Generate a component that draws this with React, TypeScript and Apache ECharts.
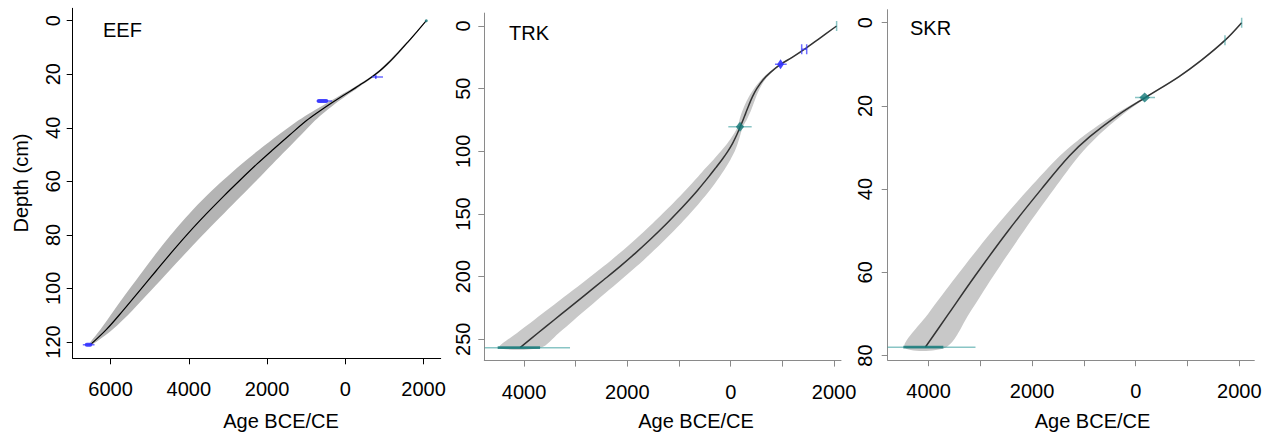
import React, { useEffect, useRef } from "react";
import * as echarts from "echarts";

// ---------- data ----------
// EEF core: depth (cm), median age (CE, negative = BCE), half-width of grey envelope (years)
const eefDepth = [0, 4, 8, 12, 16, 19, 22, 25, 28, 31, 34, 37.3, 42.7, 48.3, 53.5, 59.5, 65.6, 71.9, 78.7, 85.9, 93.4, 100.8, 108.3, 115.3, 121.1];
const eefAge = [2070, 1838, 1598, 1350, 1086, 861, 585, 267, -63, -381, -681, -991, -1423, -1860, -2255, -2687, -3114, -3536, -3971, -4403, -4834, -5256, -5684, -6104, -6522];
const eefHalf = [0, 15, 25, 35, 40, 40, 45, 60, 85, 120, 165, 215, 290, 350, 395, 430, 445, 440, 415, 380, 335, 290, 235, 155, 40];

// TRK core
const trkDepth = [0, 10, 18.5, 25, 30.6, 37, 43, 50, 56.4, 63, 69.7, 75, 80.3, 87, 93.6, 100, 106.9, 113, 120, 131, 140, 149.5, 157.4, 170.8, 181.4, 192, 202.7, 213.3, 225.3, 234.6, 245.2, 256.7];
const trkAge = [2050, 1715, 1430, 1190, 965, 770, 624, 505, 422, 353, 289, 239, 186, 116, 37, -56, -173, -286, -419, -639, -833, -1047, -1233, -1568, -1849, -2146, -2462, -2780, -3140, -3419, -3737, -4076];
const trkHalf = [0, 10, 15, 18, 20, 28, 38, 55, 70, 80, 80, 70, 50, 70, 100, 135, 165, 190, 210, 235, 250, 265, 275, 290, 305, 320, 335, 350, 370, 385, 405, 400];

// SKR core
const skrDepth = [0, 4.2, 9, 13, 18, 22.2, 27.4, 32, 40, 50, 61, 70, 78];
const skrAge = [2046, 1727, 1271, 831, 185, -340, -886, -1277, -1821, -2461, -3110, -3614, -4062];
const skrHalf = [0, 15, 20, 25, 30, 80, 140, 185, 245, 305, 355, 395, 400];

// dated samples: depth, full range, core range, type (c14 = blue, other = teal), drawing kind
const eefDates = [
  { depth: 0, min: 2060, max: 2080, coreMin: 2065, coreMax: 2075, type: "other", kind: "dot" },
  { depth: 21, min: 682, max: 963, coreMin: 760, coreMax: 800, type: "c14", kind: "bar" },
  { depth: 30, min: -731, max: -340, coreMin: -731, coreMax: -434, type: "c14", kind: "bar" },
  { depth: 121, min: -6709, max: -6410, coreMin: -6660, coreMax: -6470, type: "c14", kind: "bar" },
];
const trkDates = [
  { depth: 0, min: 2045, max: 2055, coreMin: 2045, coreMax: 2055, type: "other", kind: "tick" },
  { depth: 18.5, min: 1374, max: 1471, coreMin: 1374, coreMax: 1471, type: "c14", kind: "tick" },
  { depth: 30.6, min: 857, max: 1084, coreMin: 900, coreMax: 1030, type: "c14", kind: "peak" },
  { depth: 80.3, min: -46, max: 406, coreMin: 100, coreMax: 260, type: "other", kind: "peak" },
  { depth: 256.7, min: -4760, max: -3110, coreMin: -4510, coreMax: -3690, type: "other", kind: "line" },
];
const skrDates = [
  { depth: 0, min: 2046, max: 2046, coreMin: 2046, coreMax: 2046, type: "other", kind: "tick" },
  { depth: 4.2, min: 1724, max: 1724, coreMin: 1724, coreMax: 1724, type: "other", kind: "tick" },
  { depth: 18, min: -13, max: 373, coreMin: 70, coreMax: 276, type: "other", kind: "peak" },
  { depth: 78, min: -4790, max: -3093, coreMin: -4486, coreMax: -3714, type: "other", kind: "line" },
];

// tick values
const eefXTicks = [-6000, -4000, -2000, 0, 2000];
const eefYTicks = [0, 20, 40, 60, 80, 100, 120];
const trkXTicks = [-4000, -3000, -2000, -1000, 0, 1000, 2000];
const trkXLabels = [-4000, -2000, 0, 2000];
const trkYTicks = [0, 50, 100, 150, 200, 250];
const skrXTicks = [-4000, -3000, -2000, -1000, 0, 1000, 2000];
const skrXLabels = [-4000, -2000, 0, 2000];
const skrYTicks = [0, 20, 40, 60, 80];

const titles = ["EEF", "TRK", "SKR"];
const xTitle = "Age BCE/CE";
const yTitle = "Depth (cm)";

// ---------- layout / style ----------
const FONT = "'Liberation Sans', Arial, Helvetica, sans-serif";

const panels = [
  {
    title: titles[0], depth: eefDepth, age: eefAge, half: eefHalf, dates: eefDates,
    xTicks: eefXTicks, xLabels: eefXTicks, yTicks: eefYTicks,
    left: 72.7, top: 8.3, width: 368, height: 350,
    xMin: -6968, xMax: 2438, yMin: -4.63, yMax: 126.1,
    axisColor: "#000", band: "#b4b4b4", line: "#000", lineW: 1.2, yMargin: 9.6,
    titleX: 103, titleY: 30, xTitleX: 281,
  },
  {
    title: titles[1], depth: trkDepth, age: trkAge, half: trkHalf, dates: trkDates,
    xTicks: trkXTicks, xLabels: trkXLabels, yTicks: trkYTicks,
    left: 484.3, top: 13.1, width: 356.7, height: 347.5,
    xMin: -4769, xMax: 2135, yMin: -10.3, yMax: 267,
    axisColor: "#8a8a8a", band: "#c8c8c8", line: "#333", lineW: 1.5, yMargin: 11.2,
    titleX: 509, titleY: 33, xTitleX: 696,
  },
  {
    title: titles[2], depth: skrDepth, age: skrAge, half: skrHalf, dates: skrDates,
    xTicks: skrXTicks, xLabels: skrXLabels, yTicks: skrYTicks,
    left: 887.7, top: 9.7, width: 366.6, height: 350.5,
    xMin: -4788, xMax: 2290, yMin: -3.12, yMax: 81.12,
    axisColor: "#8a8a8a", band: "#c8c8c8", line: "#333", lineW: 1.5, yMargin: 12.9,
    titleX: 910, titleY: 28, xTitleX: 1092.5,
  },
];

const COLORS: Record<string, { thin: string; core: string }> = {
  c14: { thin: "rgba(60,60,255,0.75)", core: "rgba(50,50,255,0.9)" },
  other: { thin: "rgba(40,150,150,0.55)", core: "rgba(20,120,120,0.8)" },
};

function buildOption() {
  const grid = panels.map((p) => ({ left: p.left, top: p.top, width: p.width, height: p.height }));
  const xAxis = panels.map((p, i) => ({
    type: "value", gridIndex: i, min: p.xMin, max: p.xMax,
    axisLine: { show: true, onZero: false, lineStyle: { color: p.axisColor, width: 1 } },
    axisTick: { show: true, inside: false, length: 6, customValues: p.xTicks, lineStyle: { color: p.axisColor, width: 1 } },
    axisLabel: {
      show: true, customValues: p.xLabels, margin: 21, fontSize: 20, color: "#000", fontFamily: FONT,
      formatter: (v: number) => String(Math.abs(v)),
    },
    splitLine: { show: false },
  }));
  const yAxis = panels.map((p, i) => ({
    type: "value", gridIndex: i, inverse: true, min: p.yMin, max: p.yMax,
    axisLine: { show: true, onZero: false, lineStyle: { color: p.axisColor, width: 1 } },
    axisTick: { show: true, inside: false, length: 6, customValues: p.yTicks, lineStyle: { color: p.axisColor, width: 1 } },
    axisLabel: {
      show: true, customValues: p.yTicks, margin: p.yMargin, rotate: 90, fontSize: 20, color: "#000", fontFamily: FONT,
    },
    splitLine: { show: false },
  }));

  const series: any[] = [];
  panels.forEach((p, i) => {
    series.push({
      type: "custom", xAxisIndex: i, yAxisIndex: i, silent: true, clip: true, z: 1,
      data: p.depth.map((d, k) => [p.age[k], d]),
      renderItem: (params: any, api: any) => {
        if (params.dataIndex !== 0) return null;
        const leftSide = p.depth.map((d, k) => api.coord([p.age[k] - p.half[k], d]));
        const rightSide = p.depth.map((d, k) => api.coord([p.age[k] + p.half[k], d])).reverse();
        return {
          type: "polygon",
          shape: { points: leftSide.concat(rightSide), smooth: 0.3 },
          style: { fill: p.band, stroke: "none" },
        };
      },
    });
    series.push({
      type: "line", xAxisIndex: i, yAxisIndex: i, silent: true, z: 2,
      data: p.depth.map((d, k) => [p.age[k], d]),
      showSymbol: false, smooth: 0.35,
      lineStyle: { color: p.line, width: p.lineW },
    });
    series.push({
      type: "custom", xAxisIndex: i, yAxisIndex: i, silent: true, clip: true, z: 3,
      data: p.dates.map((d) => [d.min, d.depth, d.max]),
      renderItem: (params: any, api: any) => {
        const d = p.dates[params.dataIndex];
        const c = COLORS[d.type];
        const a = api.coord([d.min, d.depth]);
        const b = api.coord([d.max, d.depth]);
        const ca = api.coord([d.coreMin, d.depth]);
        const cb = api.coord([d.coreMax, d.depth]);
        const y = a[1];
        const children: any[] = [];
        if (d.kind === "tick") {
          const xs = Math.abs(b[0] - a[0]) < 1.5 ? [(a[0] + b[0]) / 2] : [a[0], b[0]];
          xs.forEach((x) => children.push({ type: "line", shape: { x1: x, y1: y - 5, x2: x, y2: y + 5 }, style: { stroke: c.thin, lineWidth: 1.5 } }));
          if (xs.length > 1) children.push({ type: "line", shape: { x1: a[0], y1: y, x2: b[0], y2: y }, style: { stroke: c.thin, lineWidth: 1.5 } });
        } else if (d.kind === "dot") {
          children.push({ type: "circle", shape: { cx: (a[0] + b[0]) / 2, cy: y, r: 1.5 }, style: { fill: c.core } });
        } else {
          children.push({ type: "line", shape: { x1: a[0], y1: y, x2: b[0], y2: y }, style: { stroke: c.thin, lineWidth: 1.5 } });
          if (d.kind === "peak") {
            const mx = (ca[0] + cb[0]) / 2;
            children.push({
              type: "polygon",
              shape: { points: [[ca[0], y], [mx, y - 5], [cb[0], y], [mx, y + 5]] },
              style: { fill: c.core },
            });
          } else if (d.kind === "line") {
            children.push({ type: "rect", shape: { x: ca[0], y: y - 1.4, width: cb[0] - ca[0], height: 2.8 }, style: { fill: c.core } });
          } else {
            children.push({ type: "rect", shape: { x: ca[0], y: y - 2, width: cb[0] - ca[0], height: 4, r: 2 }, style: { fill: c.core } });
          }
        }
        return { type: "group", children };
      },
    });
  });

  const graphic: any[] = [];
  panels.forEach((p) => {
    graphic.push({
      type: "text", x: p.titleX, y: p.titleY, silent: true,
      style: { text: p.title, fontSize: 20, fontFamily: FONT, fill: "#000", align: "left", verticalAlign: "middle" },
    });
    graphic.push({
      type: "text", x: p.xTitleX, y: 421, silent: true,
      style: { text: xTitle, fontSize: 20, fontFamily: FONT, fill: "#000", align: "center", verticalAlign: "middle" },
    });
  });
  graphic.push({
    type: "text", x: 21, y: 183, rotation: Math.PI / 2, silent: true,
    style: { text: yTitle, fontSize: 20, fontFamily: FONT, fill: "#000", align: "center", verticalAlign: "middle" },
  });

  return { animation: false, backgroundColor: "#fff", grid, xAxis, yAxis, series, graphic };
}

export default function App() {
  const ref = useRef<HTMLDivElement>(null);
  useEffect(() => {
    if (!ref.current) return;
    const chart = echarts.init(ref.current, undefined, { renderer: "svg" });
    chart.setOption(buildOption() as any);
    return () => chart.dispose();
  }, []);
  return (
    <div
      ref={ref}
      style={{ position: "absolute", left: 0, top: 0, width: 1266, height: 436, background: "#fff" }}
    />
  );
}
